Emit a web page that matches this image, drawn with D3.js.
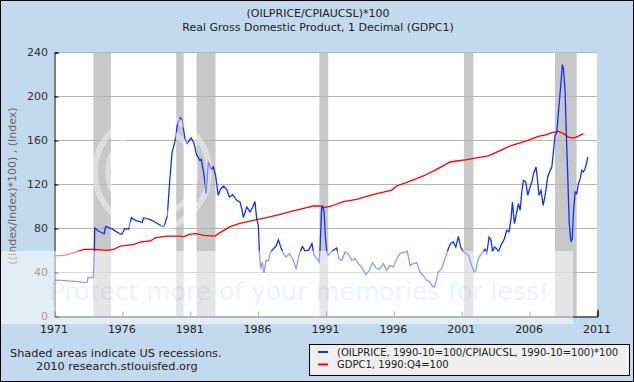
<!DOCTYPE html>
<html>
<head>
<meta charset="utf-8">
<script src="https://d3js.org/d3.v7.min.js"></script>
<style>
  body { margin: 0; padding: 0; background: #fff; }
  svg { display: block; font-family: "DejaVu Sans", Verdana, sans-serif; }
</style>
</head>
<body>
<div id="chart"></div>
<script>
// Oil price / CPI (decimal year, index)
const oilDates = [1971.0, 1971.5, 1972.0, 1972.5, 1973.0, 1973.15, 1973.45, 1973.5, 1973.9, 1973.97, 1974.0, 1974.3, 1974.7, 1974.8, 1975.3, 1975.8, 1976.0, 1976.2, 1976.5, 1976.7, 1977.0, 1977.5, 1977.6, 1978.1, 1978.5, 1978.9, 1979.1, 1979.2, 1979.35, 1979.5, 1979.7, 1979.9, 1980.1, 1980.3, 1980.45, 1980.65, 1980.8, 1981.1, 1981.3, 1981.5, 1981.75, 1981.85, 1982.05, 1982.2, 1982.37, 1982.6, 1982.74, 1982.9, 1983.1, 1983.28, 1983.5, 1983.72, 1983.92, 1984.16, 1984.46, 1984.7, 1984.83, 1984.95, 1985.2, 1985.44, 1985.64, 1985.8, 1985.93, 1986.05, 1986.13, 1986.23, 1986.33, 1986.47, 1986.62, 1986.8, 1986.96, 1987.16, 1987.36, 1987.53, 1987.7, 1987.9, 1988.1, 1988.34, 1988.58, 1988.83, 1989.08, 1989.3, 1989.5, 1989.75, 1990.0, 1990.16, 1990.36, 1990.53, 1990.6, 1990.72, 1990.8, 1990.9, 1991.0, 1991.1, 1991.2, 1991.4, 1991.58, 1991.82, 1992.0, 1992.19, 1992.44, 1992.68, 1992.93, 1993.17, 1993.42, 1993.66, 1993.98, 1994.23, 1994.47, 1994.72, 1994.97, 1995.26, 1995.5, 1995.75, 1996.0, 1996.24, 1996.49, 1996.74, 1997.03, 1997.23, 1997.47, 1997.72, 1997.96, 1998.21, 1998.46, 1998.7, 1998.82, 1999.0, 1999.14, 1999.3, 1999.56, 1999.8, 2000.05, 2000.2, 2000.42, 2000.6, 2000.79, 2000.96, 2001.16, 2001.4, 2001.55, 2001.77, 2001.94, 2002.07, 2002.26, 2002.5, 2002.75, 2002.88, 2003.05, 2003.2, 2003.3, 2003.44, 2003.61, 2003.74, 2003.93, 2004.18, 2004.35, 2004.52, 2004.67, 2004.77, 2004.92, 2005.09, 2005.21, 2005.34, 2005.46, 2005.58, 2005.75, 2005.9, 2006.07, 2006.2, 2006.32, 2006.51, 2006.61, 2006.73, 2006.88, 2007.03, 2007.18, 2007.37, 2007.55, 2007.67, 2007.79, 2007.91, 2008.04, 2008.16, 2008.31, 2008.45, 2008.53, 2008.65, 2008.72, 2008.82, 2008.95, 2009.04, 2009.1, 2009.17, 2009.27, 2009.39, 2009.51, 2009.63, 2009.76, 2009.88, 2010.0, 2010.12, 2010.25, 2010.32];
const oilValues = [32.6, 32.3, 32.0, 31.5, 31.0, 30.3, 30.5, 34.8, 35.0, 57, 80, 77, 74.8, 81.5, 79, 75, 74.3, 79.4, 79, 89.4, 87, 85, 89.4, 87.6, 85, 82, 81.2, 85, 91.5, 118.8, 149, 158, 174.8, 180.3, 178, 160.6, 156.7, 161.8, 157.6, 146.7, 141.5, 142.4, 128, 111.2, 139.4, 133.3, 135.5, 128, 109.7, 115.8, 118, 115.2, 108.2, 110.3, 105.2, 103.6, 97.6, 89.4, 99, 94.5, 99, 104.2, 88.5, 82.4, 58.2, 43, 49, 39.4, 50.6, 50.6, 58.2, 61.2, 63.6, 69.4, 62.7, 56.7, 53.6, 56.7, 52.1, 43, 56.7, 63.3, 59.1, 59.7, 65.8, 55.2, 52.1, 49, 61.2, 99, 100, 94.5, 70.3, 58.2, 55.2, 58.2, 59.7, 61.8, 51.5, 50.6, 58.2, 56.7, 50.6, 52.1, 47.6, 44.5, 37.6, 41.5, 48.5, 43.6, 42.4, 47.6, 41.5, 46, 44.5, 52.1, 56.7, 57.6, 58.8, 46, 47.6, 48.5, 40, 36.4, 32.4, 30.9, 27.9, 26.4, 30.9, 40, 43, 52.1, 61.2, 65.8, 67.3, 62.7, 72.4, 62.7, 58.2, 56.7, 55, 46, 40, 41.5, 52.7, 56.7, 60.6, 56.7, 71.8, 68.8, 58.2, 62.7, 61.2, 58.2, 64.2, 70.3, 77.9, 76.4, 88.5, 103.6, 83.9, 94.5, 102.1, 96.1, 112.7, 123.3, 121.8, 109.7, 117.3, 121.8, 129.4, 135.5, 124.8, 109.7, 114.2, 100.6, 109.7, 126.4, 132.4, 135.5, 149.1, 164.2, 167.3, 185.5, 206.7, 228.5, 224.8, 203.6, 173.3, 137, 85.5, 71.8, 67.5, 70, 94.5, 112.7, 111.2, 120.3, 124.8, 132.4, 130.9, 133.9, 140, 144.5];

// Real GDP, 1990:Q4 = 100
const gdpDates = [1971.0, 1971.74, 1972.5, 1973.2, 1974.0, 1974.9, 1975.4, 1975.9, 1976.9, 1977.4, 1978.1, 1978.5, 1979.35, 1980.1, 1980.6, 1980.95, 1981.45, 1982.05, 1982.86, 1983.23, 1983.97, 1984.7, 1985.69, 1986.67, 1987.65, 1988.63, 1989.62, 1990.11, 1990.6, 1990.9, 1991.46, 1992.31, 1993.3, 1994.28, 1995.26, 1995.88, 1996.24, 1997.23, 1998.21, 1999.19, 2000.17, 2000.67, 2001.3, 2002.02, 2003.0, 2003.74, 2004.72, 2005.7, 2006.69, 2007.3, 2007.67, 2008.16, 2008.53, 2008.9, 2009.27, 2009.63, 2010.0];
const gdpValues = [54.6, 55.1, 57.6, 60.6, 60.6, 59.7, 60.6, 63.6, 65.2, 67.3, 68.2, 71.2, 72.7, 72.7, 72.1, 74.2, 74.8, 73.3, 72.7, 75.8, 81.2, 84.2, 87, 89.4, 92.4, 95.5, 98.5, 100, 100, 98.5, 100, 104, 106, 109.7, 112.7, 114.5, 118.2, 122.7, 127.3, 133.3, 140, 140.9, 142, 143.6, 145.5, 149.7, 155.2, 158.8, 163.3, 164.8, 166.7, 167.9, 165.8, 162.7, 161.8, 163.6, 165.8];

// US recessions (start, end)
const recessionStarts = [1973.9, 1980.0, 1981.5, 1990.55, 2001.2, 2007.9];
const recessionEnds = [1975.2, 1980.55, 1982.9, 1991.2, 2001.9, 2009.5];

const xTicks = [1971, 1976, 1981, 1986, 1991, 1996, 2001, 2006, 2011];
const yTicks = [0, 40, 80, 120, 160, 200, 240];

const W = 634, H = 382;
const plotLeft = 54, plotRight = 597, plotTop = 52, plotBottom = 316;

const svg = d3.select('#chart').append('svg')
  .attr('width', W).attr('height', H);

// background
svg.append('rect').attr('x', 0).attr('y', 0).attr('width', W).attr('height', H)
  .attr('fill', '#c3d9ed');

const x = d3.scaleLinear().domain([1971, 2011]).range([plotLeft, plotRight]);
const y = d3.scaleLinear().domain([0, 240]).range([plotBottom, plotTop]);

svg.append('rect').attr('x', plotLeft).attr('y', plotTop)
  .attr('width', plotRight - plotLeft).attr('height', plotBottom - plotTop)
  .attr('fill', '#fff');

// recession bands
svg.selectAll('.rec')
  .data(recessionStarts)
  .enter().append('rect')
  .attr('x', (d) => x(d))
  .attr('y', plotTop)
  .attr('width', (d, i) => x(recessionEnds[i]) - x(d))
  .attr('height', plotBottom - plotTop)
  .attr('fill', '#c8c8c8');

// gridlines
svg.selectAll('.grid')
  .data(yTicks.filter(d => d > 0))
  .enter().append('line')
  .attr('x1', plotLeft).attr('x2', plotRight)
  .attr('y1', d => y(d) + 0.5).attr('y2', d => y(d) + 0.5)
  .attr('stroke', '#b4b4b4').attr('stroke-width', 1);

// Y axis
const yAxis = svg.append('g')
  .attr('transform', `translate(${plotLeft + 0.5},0.5)`)
  .call(d3.axisRight(y).tickValues(yTicks).tickSize(4).tickFormat(''));
yAxis.select('.domain').attr('stroke', '#000');
yAxis.selectAll('line').attr('stroke', '#000');

svg.selectAll('.ylab')
  .data(yTicks)
  .enter().append('text')
  .attr('x', plotLeft - 6)
  .attr('y', d => y(d) + 4)
  .attr('text-anchor', 'end')
  .style('font-size', '11px')
  .style('fill', '#333')
  .text(d => d);

// X axis
const xAxis = svg.append('g')
  .attr('transform', `translate(0.5,${plotBottom + 0.5})`)
  .call(d3.axisTop(x).tickValues(xTicks).tickSize(5).tickFormat(''));
xAxis.select('.domain').attr('stroke', '#000');
xAxis.selectAll('line').attr('stroke', '#555');
xAxis.selectAll('.tick:last-of-type line').attr('stroke', '#000').attr('y2', -7);

svg.selectAll('.xlab')
  .data(xTicks)
  .enter().append('text')
  .attr('x', d => x(d))
  .attr('y', 333)
  .attr('text-anchor', 'middle')
  .style('font-size', '11px')
  .style('fill', '#222')
  .text(d => d);

// lines
const gdpLine = d3.line()
  .x((d, i) => x(gdpDates[i]))
  .y(d => y(d));
svg.append('path')
  .datum(gdpValues)
  .attr('d', gdpLine)
  .attr('fill', 'none')
  .attr('stroke', '#ff0000')
  .attr('stroke-width', 1.3);

const oilLine = d3.line()
  .x((d, i) => x(oilDates[i]))
  .y(d => y(d));
svg.append('path')
  .datum(oilValues)
  .attr('d', oilLine)
  .attr('fill', 'none')
  .attr('stroke', '#1030ff')
  .attr('stroke-width', 1.3);

// titles
svg.append('text').attr('x', 318).attr('y', 17)
  .attr('text-anchor', 'middle').style('font-size', '11px').style('fill', '#222')
  .text('(OILPRICE/CPIAUCSL)*100');
svg.append('text').attr('x', 318).attr('y', 31)
  .attr('text-anchor', 'middle').style('font-size', '11px').style('fill', '#222')
  .text('Real Gross Domestic Product, 1 Decimal (GDPC1)');

svg.append('text')
  .attr('transform', 'translate(16,186) rotate(-90)')
  .attr('text-anchor', 'middle')
  .style('font-size', '11px')
  .style('fill', '#666')
  .text('((Index/Index)*100) , (Index)');

// watermark (photo host overlay)
const wm = svg.append('g');
wm.append('circle').attr('cx', 152).attr('cy', 172).attr('r', 57)
  .attr('fill', 'none').attr('stroke', '#fff').attr('stroke-width', 6).attr('opacity', 0.4);
wm.append('circle').attr('cx', 152).attr('cy', 172).attr('r', 44)
  .attr('fill', 'none').attr('stroke', '#fff').attr('stroke-width', 5).attr('opacity', 0.4);
wm.append('rect').attr('x', 0).attr('y', 251).attr('width', 573).attr('height', 73)
  .attr('fill', '#fff').attr('opacity', 0.52);
wm.append('text').attr('x', 50).attr('y', 300)
  .style('font-size', '25px')
  .style('fill', '#6a8fb5').style('opacity', 0.1)
  .text('Protect more of your memories for less!');

// footnote
svg.append('text').attr('x', 10).attr('y', 357)
  .style('font-size', '11.3px').style('fill', '#222')
  .text('Shaded areas indicate US recessions.');
svg.append('text').attr('x', 36).attr('y', 370)
  .style('font-size', '11.3px').style('fill', '#222')
  .text('2010 research.stlouisfed.org');

// legend
const lg = svg.append('g');
lg.append('rect').attr('x', 309.5).attr('y', 344.5).attr('width', 320).attr('height', 31)
  .attr('fill', '#efefef').attr('stroke', '#000');
const legendNames = ['(OILPRICE, 1990-10=100/CPIAUCSL, 1990-10=100)*100', 'GDPC1, 1990:Q4=100'];
const legendColors = ['#1030ff', '#ff0000'];
legendNames.forEach((name, i) => {
  lg.append('line').attr('x1', 318).attr('x2', 328)
    .attr('y1', 352 + i * 12.5).attr('y2', 352 + i * 12.5)
    .attr('stroke', legendColors[i]).attr('stroke-width', 2);
  lg.append('text').attr('x', 337).attr('y', 355.5 + i * 12.5)
    .style('font-size', '10px').style('fill', '#222')
    .text(name);
});

// frame
svg.append('rect').attr('x', 0.5).attr('y', 0.5).attr('width', W - 1).attr('height', H - 1)
  .attr('fill', 'none').attr('stroke', '#000');
</script>
</body>
</html>
